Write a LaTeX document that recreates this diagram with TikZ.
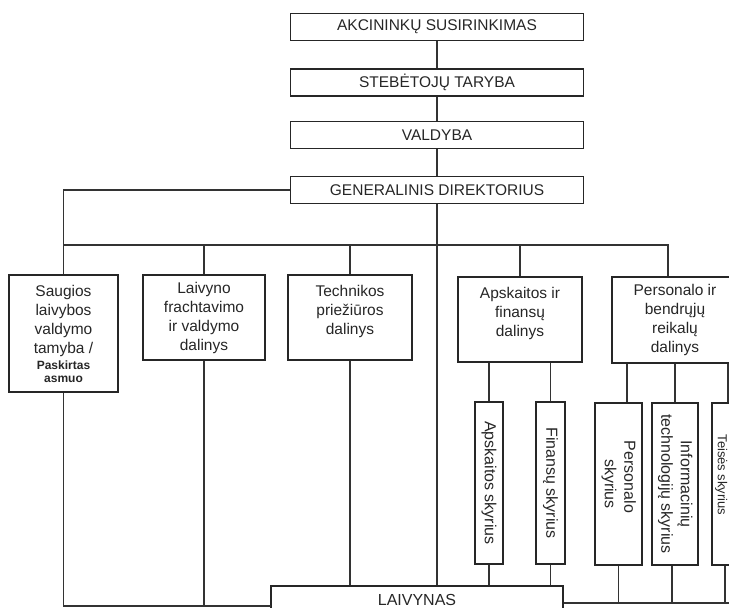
\documentclass[tikz,border=0pt]{standalone}
\usepackage{fontspec}
\setmainfont{Liberation Sans}
\usepackage{graphicx}
\newcommand\pkfont{\fontsize{12}{14}\selectfont\bfseries}
\newcommand\vfont{\fontsize{16}{19.5}\selectfont}
\begin{document}
\begin{tikzpicture}[x=1pt,y=-1pt,
  box/.style={draw=black!85, line width=1.2pt, inner sep=0pt, align=center,
    font=\fontsize{15.5}{19}\selectfont, text=black!85},
  title/.style={box, font=\fontsize{15.5}{18}\selectfont, minimum width=293pt, minimum height=27pt},
  sub/.style={box, minimum height=162pt},
  conn/.style={draw=black!80, line width=1.1pt}]
\useasboundingbox (0,0) rectangle (729,608);
\clip (0,0) rectangle (729,608);

% top chain
\node[title] (akc) at (437,27) {AKCININKŲ SUSIRINKIMAS};
\node[title] (ste) at (437,82.5) {STEBĖTOJŲ TARYBA};
\node[title] (val) at (437,135) {VALDYBA};
\node[title] (gen) at (437,190) {GENERALINIS DIREKTORIUS};

% divisions
\node[box, minimum width=109pt, minimum height=117pt] (sau) at (63.5,333.5)
  {Saugios\\laivybos\\valdymo\\tamyba /\\[-3pt]{\pkfont Paskirtas}\\[-6pt]{\pkfont asmuo}};
\node[box, minimum width=122pt, minimum height=85pt] (lvf) at (204,317.5)
  {Laivyno\\frachtavimo\\ir valdymo\\dalinys};
\node[box, minimum width=124pt, minimum height=85pt] (tec) at (350,317.5)
  {Technikos\\priežiūros\\dalinys\\[-4pt]\mbox{}};
\node[box, minimum width=124pt, minimum height=85pt] (apd) at (520,319.5)
  {Apskaitos ir\\finansų\\dalinys\\[-4pt]\mbox{}};
\node[box, minimum width=126pt, minimum height=86pt] (pdl) at (675,320)
  {Personalo ir\\bendrųjų\\reikalų\\dalinys};

% sub-units
\node[sub, minimum width=28pt] (aps) at (489,483) {\rotatebox{-90}{\vfont Apskaitos skyrius}};
\node[sub, minimum width=29pt] (fin) at (550.5,483) {\rotatebox{-90}{\vfont Finansų skyrius}};
\node[sub, minimum width=47pt] (psk) at (618.5,484)
  {\rotatebox{-90}{\vfont\begin{tabular}{@{}c@{}}\mbox{Personalo\kern14pt}\\skyrius\end{tabular}}};
\node[sub, minimum width=46pt] (inf) at (675,484)
  {\rotatebox{-90}{\vfont\begin{tabular}{@{}c@{}}Informacinių\\technologijų skyrius\end{tabular}}};
\node[sub, minimum width=30pt] (tei) at (727,484)
  {\rotatebox{-90}{\fontsize{13}{16}\selectfont\mbox{Teisės skyrius\kern18pt\rule{0pt}{21pt}}}};

% fleet
\node[box, minimum width=292pt, minimum height=28pt, font=\fontsize{16}{19}\selectfont] (lv) at (417,600) {LAIVYNAS};

% connectors
\draw[conn] (akc) -- (ste);
\draw[conn] (ste) -- (val);
\draw[conn] (val) -- (gen);
\coordinate (busL) at (63.5,245);
\coordinate (busR) at (668,245);
\draw[conn] (gen.west) -| (sau.north);
\draw[conn] (busL) -- (busR) -- (busR |- pdl.north);
\draw[conn] (lvf.north) -- (lvf.north |- busL);
\draw[conn] (tec.north) -- (tec.north |- busL);
\draw[conn] (apd.north) -- (apd.north |- busL);
\draw[conn] (gen.south) -- (gen.south |- lv.north);

\coordinate (botL) at (271,606);
\draw[conn] (sau.south) |- (botL);
\draw[conn] (lvf.south) -- (lvf.south |- botL);
\draw[conn] (tec.south) -- (tec.south |- lv.north);

\draw[conn] (aps.north) -- (aps.north |- apd.south);
\draw[conn] (aps.south) -- (aps.south |- lv.north);
\draw[conn] (fin.north) -- (fin.north |- apd.south);
\draw[conn] (fin.south) -- (fin.south |- lv.north);

\draw[conn] ([xshift=8.5pt]psk.north) -- ([xshift=8.5pt]psk.north |- pdl.south);
\draw[conn] (inf.north) -- (inf.north |- pdl.south);
\draw[conn] ([xshift=1pt]tei.north) -- ([xshift=1pt]tei.north |- pdl.south);

\coordinate (botR) at (731,603);
\draw[conn] ([yshift=-3pt]lv.east) -- (botR);
\draw[conn] (psk.south) -- (psk.south |- botR);
\draw[conn] ([xshift=-3pt]inf.south) -- ([xshift=-3pt]inf.south |- botR);
\draw[conn] ([xshift=-2pt]tei.south) -- ([xshift=-2pt]tei.south |- botR);
\end{tikzpicture}
\end{document}
